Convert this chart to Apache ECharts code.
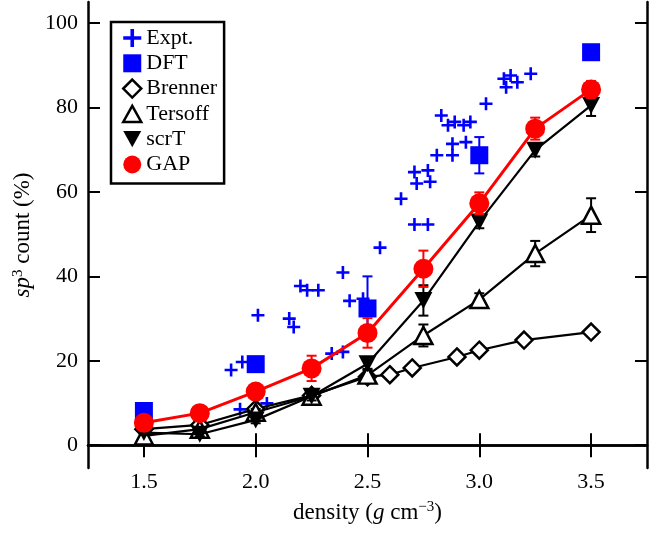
<!DOCTYPE html>
<html><head><meta charset="utf-8">
<script src="https://cdn.jsdelivr.net/npm/echarts@6/dist/echarts.min.js"></script>
<style>html,body{margin:0;padding:0;background:#fff}#c{width:649px;height:534px}</style>
</head><body><div id="c"></div>
<script>
// ---- data ----
const xTicks = [1.5, 2.0, 2.5, 3.0, 3.5];
const yTicks = [0, 20, 40, 60, 80, 100];
const densities = [1.5, 1.75, 2.0, 2.25, 2.5, 2.75, 3.0, 3.25, 3.5];
const gapVals = [5.3, 7.6, 12.7, 18.2, 26.6, 41.8, 57.3, 75.0, 84.3];
const gapErr  = [0.8, 0.8, 1.2, 3.0, 3.5, 4.3, 2.6, 2.6, 2.0];
const scrtVals = [3.0, 2.6, 6.0, 11.6, 19.3, 34.3, 52.9, 69.9, 80.5];
const scrtErr  = [0.5, 0.5, 0.8, 1.0, 1.5, 3.6, 1.5, 1.5, 2.5];
const tersoffVals = [2.2, 3.8, 7.8, 11.6, 16.6, 26.0, 34.5, 45.4, 54.5];
const tersoffErr  = [0.5, 0.5, 0.8, 1.0, 1.5, 2.6, 1.5, 3.0, 4.0];
const brennerX = [1.5, 1.75, 2.0, 2.25, 2.5, 2.6, 2.7, 2.9, 3.0, 3.2, 3.5];
const brennerY = [3.8, 4.8, 8.6, 11.8, 16.2, 16.7, 18.3, 20.9, 22.5, 24.9, 26.8];
const dftX = [1.5, 2.0, 2.5, 3.0, 3.5];
const dftY = [8.1, 19.2, 32.4, 68.7, 93.1];
const dftErr = [0, 0, 7.6, 4.3, 0];
const exptX = [1.89, 1.94, 1.93, 2.05, 2.01, 2.15, 2.17, 2.20, 2.23, 2.28, 2.34, 2.39, 2.39, 2.42, 2.48,
               2.556, 2.65, 2.71, 2.77, 2.72, 2.78, 2.71, 2.77, 2.81, 2.88, 2.88, 2.94, 2.86, 2.89, 2.93,
               2.96, 2.83, 3.03, 3.11, 3.14, 3.17, 3.12, 3.23];
const exptY = [17.8, 19.7, 8.5, 9.9, 30.8, 30.0, 28.0, 37.7, 36.7, 36.7, 21.7, 22.1, 40.9, 34.2, 34.7,
               46.8, 58.4, 52.3, 52.3, 62.0, 62.4, 64.7, 65.1, 68.7, 68.7, 71.4, 71.8, 75.8, 76.6, 75.8,
               76.6, 78.1, 80.9, 86.8, 87.6, 86.0, 84.8, 88.0];

const FONT = 'Liberation Serif';
const CROSS = 'path://M4,0h2v4h4v2h-4v4h-2v-4h-4v-2h4z';
const DOWN = 'path://M0,0L10,0L5,9z';
const UP = 'path://M5,0L10,9L0,9z';

function errData(xs, ys, es) {
  const out = [];
  xs.forEach((x, i) => { if (es[i] > 0) out.push([x, ys[i], es[i]]); });
  return out;
}
function errSeries(name, data, color, z) {
  return {
    name: name, type: 'custom', z: z, silent: true,
    encode: { x: 0, y: 1 },
    data: data,
    renderItem: function (params, api) {
      const x = api.value(0), y = api.value(1), e = api.value(2);
      const t = api.coord([x, y + e]);
      const b = api.coord([x, y - e]);
      const hw = 5;
      const st = { stroke: color, lineWidth: 2 };
      return { type: 'group', children: [
        { type: 'line', shape: { x1: t[0], y1: t[1], x2: b[0], y2: b[1] }, style: st },
        { type: 'line', shape: { x1: t[0] - hw, y1: t[1], x2: t[0] + hw, y2: t[1] }, style: st },
        { type: 'line', shape: { x1: b[0] - hw, y1: b[1], x2: b[0] + hw, y2: b[1] }, style: st }
      ]};
    }
  };
}

const axisLine = { show: true, lineStyle: { color: '#000', width: 2.5 } };
const tick = (vals) => ({ show: true, inside: true, length: 12, lineStyle: { color: '#000', width: 2 }, customValues: vals });
const nameStyle = { fontFamily: FONT, fontSize: 23, color: '#000',
  rich: { i: { fontFamily: FONT, fontSize: 23, fontStyle: 'italic', color: '#000' },
          sup: { fontFamily: FONT, fontSize: 15, verticalAlign: 'top', color: '#000', padding: [0, 0, 10, 0] } } };

const chart = echarts.init(document.getElementById('c'), null, { renderer: 'canvas' });
chart.setOption({
  animation: false,
  backgroundColor: '#fff',
  grid: { left: 88, right: 2, top: 2, bottom: 66, containLabel: false },
  legend: {
    orient: 'vertical', left: 111, top: 22,
    padding: [5, 7, 8, 11], itemGap: 3.3, itemWidth: 18, itemHeight: 18,
    borderColor: '#000', borderWidth: 2.5, backgroundColor: '#fff',
    textStyle: { fontFamily: FONT, fontSize: 22, color: '#000', lineHeight: 22 },
    data: [
      { name: 'Expt.', icon: CROSS, itemStyle: { color: '#0000ff', borderWidth: 0, opacity: 1 } },
      { name: 'DFT', icon: 'rect', itemStyle: { color: '#0000ff', borderWidth: 0, opacity: 1 } },
      { name: 'Brenner', icon: 'diamond', itemStyle: { color: '#fff', borderColor: '#000', borderWidth: 2.5 } },
      { name: 'Tersoff', icon: UP, itemStyle: { color: '#fff', borderColor: '#000', borderWidth: 2.5 } },
      { name: 'scrT', icon: DOWN, itemStyle: { color: '#000', borderWidth: 0 } },
      { name: 'GAP', icon: 'circle', itemStyle: { color: '#ff0000', borderWidth: 0 } }
    ]
  },
  xAxis: [{
    type: 'value', min: 1.25, max: 3.75, position: 'bottom',
    axisLine: axisLine, splitLine: { show: false }, axisTick: tick(xTicks),
    axisLabel: { customValues: xTicks, formatter: v => v.toFixed(1), fontFamily: FONT, fontSize: 22, color: '#000', margin: 3 },
    name: 'density ({i|g} cm{sup|\u22123})', nameLocation: 'middle', nameGap: 32,
    nameTextStyle: nameStyle
  }, {
    type: 'value', min: 1.25, max: 3.75, position: 'top',
    axisLine: axisLine, splitLine: { show: false }, axisTick: tick(xTicks), axisLabel: { show: false }
  }],
  yAxis: [{
    type: 'value', min: -5.4, max: 105, position: 'left',
    axisLine: axisLine, splitLine: { show: false }, axisTick: tick(yTicks),
    axisLabel: { customValues: yTicks, fontFamily: FONT, fontSize: 22, color: '#000', margin: 10 },
    name: '{i|sp}{sup|3} count (%)', nameLocation: 'middle', nameGap: 50, nameRotate: 90,
    nameTextStyle: nameStyle
  }, {
    type: 'value', min: -5.4, max: 105, position: 'right',
    axisLine: axisLine, splitLine: { show: false }, axisTick: tick(yTicks), axisLabel: { show: false }
  }],
  series: [
    { name: 'Expt.', type: 'scatter', z: 2, symbol: CROSS, symbolSize: 13,
      itemStyle: { color: '#0000ff', opacity: 1 }, data: exptX.map((x, i) => [x, exptY[i]]) },
    errSeries('DFT-err', errData(dftX, dftY, dftErr), '#0000ff', 3),
    { name: 'DFT', type: 'scatter', z: 4, symbol: 'rect', symbolSize: 18,
      itemStyle: { color: '#0000ff', opacity: 1 }, data: dftX.map((x, i) => [x, dftY[i]]) },
    { name: 'Brenner', type: 'line', z: 5, symbol: 'diamond', symbolSize: 17, showAllSymbol: true,
      lineStyle: { color: '#000', width: 2.2 },
      itemStyle: { color: '#fff', borderColor: '#000', borderWidth: 2.5 },
      data: brennerX.map((x, i) => [x, brennerY[i]]) },
    errSeries('Tersoff-err', errData(densities, tersoffVals, tersoffErr), '#000', 6),
    { name: 'Tersoff', type: 'line', z: 7, symbol: UP, symbolSize: [18, 17], showAllSymbol: true,
      lineStyle: { color: '#000', width: 2.2 },
      itemStyle: { color: '#fff', borderColor: '#000', borderWidth: 2.5 },
      data: densities.map((x, i) => [x, tersoffVals[i]]) },
    errSeries('scrT-err', errData(densities, scrtVals, scrtErr), '#000', 8),
    { name: 'scrT', type: 'line', z: 9, symbol: DOWN, symbolSize: [18, 17], showAllSymbol: true,
      lineStyle: { color: '#000', width: 2.2 },
      itemStyle: { color: '#000', borderWidth: 0 },
      data: densities.map((x, i) => [x, scrtVals[i]]) },
    errSeries('GAP-err', errData(densities, gapVals, gapErr), '#ff0000', 10),
    { name: 'GAP', type: 'line', z: 11, symbol: 'circle', symbolSize: 20, showAllSymbol: true,
      lineStyle: { color: '#ff0000', width: 3 },
      itemStyle: { color: '#ff0000', borderWidth: 0 },
      data: densities.map((x, i) => [x, gapVals[i]]) }
  ]
});
</script>
</body></html>
